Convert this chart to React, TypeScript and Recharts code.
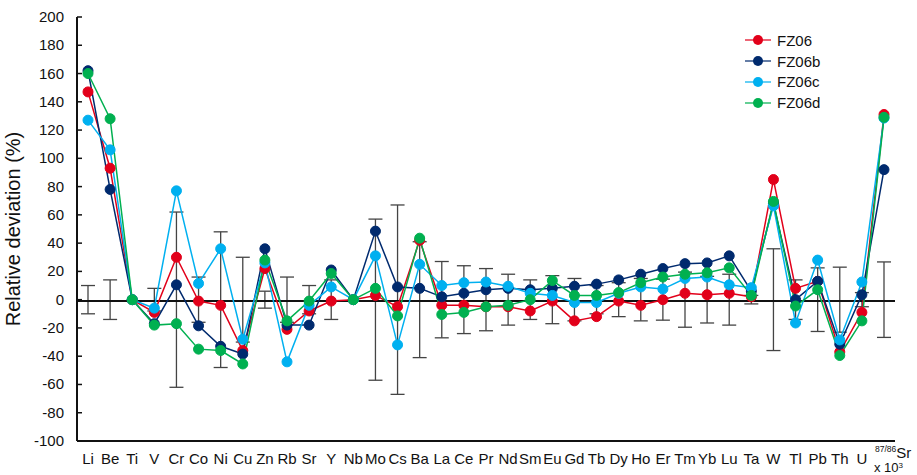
import React from "react";
import {
  ComposedChart,
  Line,
  XAxis,
  YAxis,
  ReferenceLine,
  ErrorBar,
  Legend,
} from "recharts";

// 元素 (x 軸)
const elements = [
  "Li", "Be", "Ti", "V", "Cr", "Co", "Ni", "Cu", "Zn", "Rb", "Sr", "Y", "Nb",
  "Mo", "Cs", "Ba", "La", "Ce", "Pr", "Nd", "Sm", "Eu", "Gd", "Tb", "Dy", "Ho",
  "Er", "Tm", "Yb", "Lu", "Ta", "W", "Tl", "Pb", "Th", "U", "87/86Sr",
];

// relative deviation (%)
const fz06 = [
  147, 93, 0, -9, 30, -1, -4, -36, 22, -21, -8, -1, 0, 3, -5, 42, -4, -4, -5,
  -5, -8, -1, -15, -12, -1, -4, 0, 4.5, 3.5, 4.5, 2, 85, 8, 13, -37, -9, 131,
];
const fz06b = [
  162, 78, 0, -17, 10.5, -18.5, -33, -38.5, 36, -18, -18, 21, 0, 48.5, 9, 8, 2,
  4.5, 7, 8, 7, 8, 9.5, 11, 14, 18, 22, 25.5, 26, 31, 6, 68, 0, 13, -31.5, 3.5, 92,
];
const fz06c = [
  127, 106, 0, -6, 77, 11.5, 36, -28, 26, -44, -4, 9, 0, 31, -32, 25, 10, 12,
  12.5, 9.5, 4.5, 3, -2, -2, 4.5, 9, 7.5, 15, 16, 10.5, 8.5, 66.5, -16.5, 28,
  -28.5, 12.5, 128.5,
];
const fz06d = [
  160, 128, 0, -18, -17, -35, -36, -45.5, 28, -15, -1, 18.5, 0, 8, -11.5, 43.5,
  -10.5, -9, -5, -4, 0, 13.5, 3, 3, 5, 12, 16, 18, 19, 22.5, 3, 69.5, -4.5, 7,
  -39.5, -15, 129,
];
// 誤差範囲 (±)
const uncertainty = [
  10, 14, 0, 8, 62, 16, 48, 30, 6, 16, 10, 14, 0, 57, 67, 41, 27, 24, 22, 18,
  14, 17, 15, 10, 12, 15, 14.5, 19.5, 16.5, 18, 3, 36, 14, 22.5, 23, 5, 26.7,
];
const yTicks = [-100, -80, -60, -40, -20, 0, 20, 40, 60, 80, 100, 120, 140, 160, 180, 200];

const series = [
  { key: "FZ06", values: fz06, color: "#e2001a" },
  { key: "FZ06b", values: fz06b, color: "#002a6e" },
  { key: "FZ06c", values: fz06c, color: "#00b0f0" },
  { key: "FZ06d", values: fz06d, color: "#00b050" },
];

const data = elements.map((name, i) => {
  const row: Record<string, number | string> = { name, base: 0, err: uncertainty[i] };
  series.forEach((s) => {
    row[s.key] = s.values[i];
  });
  return row;
});

const FONT = '"Liberation Sans", Arial, sans-serif';

function YTick({ x, y, payload }: any) {
  return (
    <g>
      <line x1={x + 13} x2={x + 18} y1={y} y2={y} stroke="#111" strokeWidth={1.5} />
      <text x={x} y={y} dy={5} textAnchor="end" fontSize={15} fill="#111" fontFamily={FONT}>
        {payload.value}
      </text>
    </g>
  );
}

function XTick({ x, payload }: any) {
  if (payload.value === "87/86Sr") {
    // 同位体比ラベルは2行
    return (
      <g>
        <text x={x - 9} y={458} fontSize={15} fill="#111" fontFamily={FONT}>
          <tspan fontSize={8.5} dy={-6}>87/86</tspan>
          <tspan dy={6}>Sr</tspan>
        </text>
        <text x={x - 10} y={472} fontSize={13} fill="#111" fontFamily={FONT}>
          x 10<tspan fontSize={8} dy={-4}>3</tspan>
        </text>
      </g>
    );
  }
  return (
    <text x={x} y={464} textAnchor="middle" fontSize={15} fill="#111" fontFamily={FONT}>
      {payload.value}
    </text>
  );
}

function LegendBox() {
  return (
    <div style={{ fontFamily: FONT, fontSize: 15, color: "#111" }}>
      {series.map((s) => (
        <div key={s.key} style={{ display: "flex", alignItems: "center", height: 20.8 }}>
          <svg width={28} height={14} style={{ marginRight: 4 }}>
            <line x1={0} x2={26} y1={7} y2={7} stroke={s.color} strokeWidth={2} opacity={0.6} />
            <circle cx={13} cy={7} r={5} fill={s.color} />
          </svg>
          <span>{s.key}</span>
        </div>
      ))}
    </div>
  );
}

export default function App() {
  return (
    <div style={{ position: "absolute", left: 0, top: 0, background: "#fff" }}>
      <ComposedChart
        width={917}
        height={475}
        data={data}
        margin={{ top: 17, right: 22, bottom: 0, left: 0 }}
      >
        <XAxis
          xAxisId="bottom"
          dataKey="name"
          interval={0}
          padding={{ left: 11, right: 11 }}
          axisLine={{ stroke: "#111", strokeWidth: 2 }}
          tickLine={false}
          tick={<XTick />}
          height={34}
        />
        <XAxis
          xAxisId="top"
          orientation="top"
          dataKey="name"
          tick={false}
          tickLine={false}
          axisLine={{ stroke: "#111", strokeWidth: 1.5 }}
          height={0}
        />
        <YAxis
          yAxisId="left"
          domain={[-100, 200]}
          ticks={yTicks}
          interval={0}
          width={77}
          tickLine={false}
          tickSize={0}
          tickMargin={13}
          axisLine={{ stroke: "#111", strokeWidth: 2 }}
          tick={<YTick />}
          label={{
            value: "Relative deviation (%)",
            angle: -90,
            position: "insideLeft",
            offset: 13,
            style: { textAnchor: "middle", fontSize: 20, fill: "#111", fontFamily: FONT },
          }}
        />
        <YAxis
          yAxisId="right"
          orientation="right"
          domain={[-100, 200]}
          tick={false}
          tickLine={false}
          width={0}
          axisLine={{ stroke: "#111", strokeWidth: 2 }}
        />
        <Line
          xAxisId="bottom"
          yAxisId="left"
          dataKey="base"
          stroke="none"
          dot={false}
          activeDot={false}
          legendType="none"
          isAnimationActive={false}
        >
          <ErrorBar dataKey="err" width={7} stroke="#444" strokeWidth={1.3} direction="y" isAnimationActive={false} />
        </Line>
        <ReferenceLine xAxisId="bottom" yAxisId="left" y={-1} stroke="#111" strokeWidth={2} />
        {series.map((s) => (
          <Line
            key={s.key}
            xAxisId="bottom"
            yAxisId="left"
            dataKey={s.key}
            stroke={s.color}
            strokeWidth={1.5}
            dot={{ r: 5, fill: s.color, stroke: s.color, strokeWidth: 1 }}
            activeDot={false}
            isAnimationActive={false}
          />
        ))}
        <Legend
          verticalAlign="middle"
          align="center"
          layout="horizontal"
          content={<LegendBox />}
          wrapperStyle={{ left: 745, top: 30, width: 120 }}
        />
      </ComposedChart>
    </div>
  );
}
